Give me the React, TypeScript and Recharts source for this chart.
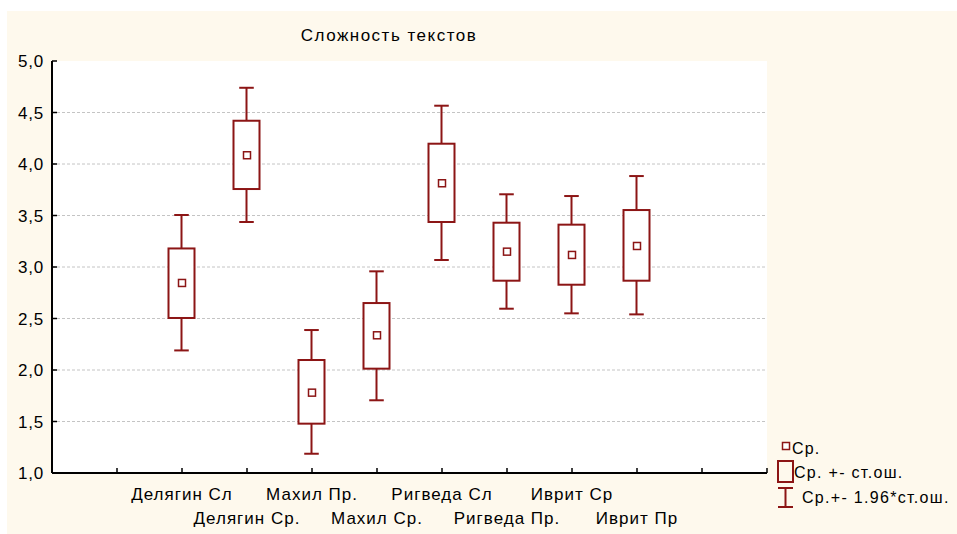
import React from 'react';
import { ComposedChart, Bar, Scatter, XAxis, YAxis, CartesianGrid } from 'recharts';

const categories = ['Делягин Сл', 'Делягин Ср.', 'Махил Пр.', 'Махил Ср.', 'Ригведа Сл', 'Ригведа Пр.', 'Иврит Ср', 'Иврит Пр'];
const positions = [2, 3, 4, 5, 6, 7, 8, 9];
const means = [2.845, 4.085, 1.78, 2.337, 3.813, 3.149, 3.117, 3.204];
const boxHigh = [3.18, 4.42, 2.097, 2.65, 4.197, 3.43, 3.411, 3.553];
const boxLow = [2.505, 3.757, 1.479, 2.013, 3.437, 2.867, 2.828, 2.867];
const whiskerHigh = [3.505, 4.74, 2.388, 2.958, 4.566, 3.706, 3.689, 3.883];
const whiskerLow = [2.19, 3.437, 1.187, 1.706, 3.068, 2.595, 2.55, 2.54];
const xTicks = [0, 1, 2, 3, 4, 5, 6, 7, 8, 9, 10, 11];
const yTicks = [1, 1.5, 2, 2.5, 3, 3.5, 4, 4.5, 5];
const legendLabels = ['Ср.', 'Ср. +- ст.ош.', 'Ср.+- 1.96*ст.ош.'];

const data = categories.map((name, i) => ({
  name,
  x: positions[i],
  mean: means[i],
  box: [boxLow[i], boxHigh[i]],
  whisker: [whiskerLow[i], whiskerHigh[i]],
}));

const RED = '#8c1515';
const BG = '#fef9ed';
const FONT = '"Liberation Sans", Arial, sans-serif';

// whole box + whiskers drawn from the bar rect that spans the whisker range
const BoxShape = (props: any) => {
  const { x, y, width, height, payload } = props;
  if (height == null || !payload) return null;
  const [lo, hi] = payload.whisker;
  const k = height / (hi - lo);
  const yOf = (v: number) => y + (hi - v) * k;
  const cx = x + width / 2;
  const cap = width * 0.28;
  return (
    <g stroke={RED} strokeWidth={2} fill="none">
      <line x1={cx} x2={cx} y1={yOf(hi)} y2={yOf(payload.box[1])} />
      <line x1={cx} x2={cx} y1={yOf(payload.box[0])} y2={yOf(lo)} />
      <line x1={cx - cap} x2={cx + cap} y1={yOf(hi)} y2={yOf(hi)} />
      <line x1={cx - cap} x2={cx + cap} y1={yOf(lo)} y2={yOf(lo)} />
      <rect x={x} y={yOf(payload.box[1])} width={width} height={yOf(payload.box[0]) - yOf(payload.box[1])} fill="#fff" />
    </g>
  );
};

const MeanShape = (props: any) => {
  const { cx, cy } = props;
  return <rect x={cx - 3.5} y={cy - 3.5} width={7} height={7} fill="#fff" stroke={RED} strokeWidth={1.5} />;
};

const XTick = (props: any) => {
  const { x, y, payload } = props;
  const i = positions.indexOf(payload.value);
  return (
    <g>
      <line x1={x} x2={x} y1={y} y2={y - 5} stroke="#000" strokeWidth={1.5} />
      {i >= 0 && (
        <text x={x} y={y + (i % 2 ? 51 : 27)} textAnchor="middle" fontSize={17} fontWeight="normal" stroke="none" fill="#000" style={{ letterSpacing: 1 }}>
          {categories[i]}
        </text>
      )}
    </g>
  );
};

const YTick = (props: any) => {
  const { x, y, payload } = props;
  return (
    <g>
      <line x1={x} x2={x + 5} y1={y} y2={y} stroke="#000" strokeWidth={1.5} />
      <text x={x - 8} y={y + 6} textAnchor="end" fontSize={17} fontWeight="normal" stroke="none" fill="#000" style={{ letterSpacing: 0.8 }}>
        {payload.value.toFixed(1).replace('.', ',')}
      </text>
    </g>
  );
};

const LegendBox = () => (
  <svg width={190} height={80} style={{ position: 'absolute', left: 763, top: 424, fontFamily: FONT }}>
    <rect x={12.5} y={7.5} width={7} height={7} fill="#fff" stroke={RED} strokeWidth={1.5} />
    <text x={22} y={19} fontSize={16} fill="#000" style={{ letterSpacing: 1.2 }}>{legendLabels[0]}</text>
    <rect x={8} y={26} width={15} height={21} fill="none" stroke={RED} strokeWidth={2} />
    <text x={24} y={43} fontSize={16} fill="#000" style={{ letterSpacing: 1.3 }}>{legendLabels[1]}</text>
    <g stroke={RED} strokeWidth={2}>
      <line x1={15.5} x2={15.5} y1={53} y2={72} />
      <line x1={8} x2={23} y1={53} y2={53} />
      <line x1={8} x2={23} y1={72} y2={72} />
    </g>
    <text x={32} y={68} fontSize={16} fill="#000" style={{ letterSpacing: 1.3 }}>{legendLabels[2]}</text>
  </svg>
);

export default function App() {
  return (
    <div style={{ position: 'absolute', left: 7, top: 11, width: 950, height: 523, background: BG, fontFamily: FONT }}>
      <div style={{ position: 'absolute', left: 232, top: 15, width: 300, textAlign: 'center', fontSize: 17, lineHeight: '20px', letterSpacing: 1.5 }}>
        Сложность текстов
      </div>
      <ComposedChart width={950} height={523} data={data} margin={{ top: 50, right: 190, bottom: 0, left: 0 }} style={{ fontFamily: FONT }}>
        <CartesianGrid vertical={false} horizontalValues={[1.5, 2, 2.5, 3, 3.5, 4, 4.5]} stroke="#c4c4c4" strokeDasharray="3 2" fill="#fff" />
        <XAxis
          type="number"
          dataKey="x"
          domain={[0, 11]}
          ticks={xTicks}
          interval={0}
          height={61}
          tickSize={0}
          tickMargin={0}
          tickLine={false}
          tick={<XTick />}
          axisLine={{ stroke: '#000', strokeWidth: 2 }}
          allowDataOverflow
        />
        <XAxis
          xAxisId="top"
          orientation="top"
          mirror
          type="number"
          domain={[0, 11]}
          ticks={xTicks}
          interval={0}
          height={0}
          tick={false}
          tickSize={5}
          tickLine={{ stroke: '#000', strokeWidth: 1.5 }}
          axisLine={{ stroke: '#000', strokeWidth: 2 }}
        />
        <YAxis
          type="number"
          domain={[1, 5]}
          ticks={yTicks}
          interval={0}
          width={45}
          tickSize={0}
          tickMargin={0}
          tickLine={false}
          tick={<YTick />}
          axisLine={{ stroke: '#000', strokeWidth: 2 }}
          allowDataOverflow
        />
        <YAxis
          yAxisId="right"
          orientation="right"
          mirror
          type="number"
          domain={[1, 5]}
          ticks={yTicks}
          interval={0}
          width={0}
          tick={false}
          tickSize={5}
          tickLine={{ stroke: '#000', strokeWidth: 1.5 }}
          axisLine={{ stroke: '#000', strokeWidth: 2 }}
        />
        <Bar dataKey="whisker" barSize={26} shape={<BoxShape />} isAnimationActive={false} />
        <Scatter dataKey="mean" shape={<MeanShape />} isAnimationActive={false} />
      </ComposedChart>
      <LegendBox />
    </div>
  );
}
